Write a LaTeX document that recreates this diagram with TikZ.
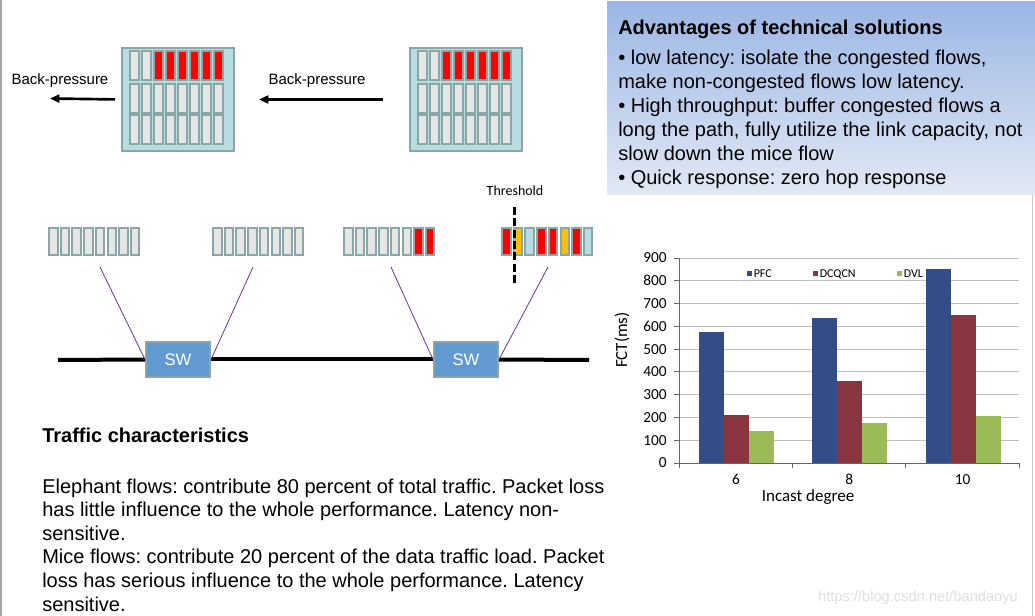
\documentclass[tikz,border=0pt]{standalone}
\usepackage{fontspec}
\setmainfont{Liberation Sans}
\newfontfamily\chartfont{Carlito}
\usepackage{tikz}
\usetikzlibrary{arrows.meta}
\frenchspacing
\definecolor{slotedge}{RGB}{138,166,166}
\definecolor{slotgray}{RGB}{230,230,230}
\definecolor{swcyan}{RGB}{183,221,224}
\definecolor{swblue}{RGB}{97,153,210}
\definecolor{linkpurple}{RGB}{112,48,160}
\definecolor{pktred}{RGB}{255,0,0}
\definecolor{pktyellow}{RGB}{255,192,0}
\definecolor{pfcblue}{RGB}{52,77,135}
\definecolor{dcqred}{RGB}{137,54,64}
\definecolor{dvlgreen}{RGB}{155,187,89}
\definecolor{boxtop}{RGB}{155,182,228}
\definecolor{boxbot}{RGB}{226,233,245}

\begin{document}
\begin{tikzpicture}[x=0.75pt,y=-0.75pt,
		slot/.style={draw=slotedge,line width=1.5,fill=slotgray},
		swbig/.style={draw=slotedge,line width=1.5,fill=swcyan,minimum width=84pt,minimum height=77.25pt,inner sep=0},
		swsmall/.style={draw=slotedge,line width=1.5,fill=swblue,minimum width=48pt,minimum height=26.25pt,inner sep=0,text=white,font=\fontsize{12.5}{14}\selectfont},
		bp/.style={line width=2,-{Triangle[length=7pt,width=6pt]}},
		bplabel/.style={font=\fontsize{11.25}{13}\selectfont,inner sep=0},
		link/.style={line width=3},
		feed/.style={linkpurple,line width=0.6},
		body/.style={font=\fontsize{15}{18}\selectfont,align=left,inner sep=0,anchor=base west},
		grid/.style={gray!50,line width=0.6},
		axisline/.style={gray!80!black,line width=0.6},
		ticklab/.style={font=\chartfont\fontsize{11.5}{13}\selectfont,inner sep=0}]
			\useasboundingbox (0,0) rectangle (1035,616);
			\draw[gray!70,line width=1.5] (1,0) -- (1,616);
			\draw[gray!40,line width=0.75] (1032,195) -- (1032,616);
			\node[swbig] (lsw) at (178,99.5) {};
			\node[swbig] (rsw) at (466,99.5) {};
			\foreach \s in {lsw,rsw}{
				\begin{scope}[shift={(\s.north west)}]
					\foreach \c [count=\k from 0] in {slotgray,slotgray,pktred,pktred,pktred,pktred,pktred,pktred}
						\draw[slot,fill=\c] ({9+\k*12},4) rectangle +(8.8,29);
					\foreach \r in {37,68}{
						\foreach \k in {0,...,7}
							\draw[slot] ({9+\k*12},\r) rectangle +(8.8,29);
					}
				\end{scope}
			}
			\coordinate (bpend) at (50,98.5);
			\draw[bp,shorten <=4.5pt] (lsw.west) -- (bpend);
			\draw[bp,shorten <=19.5pt,shorten >=18pt] (rsw.west) -- (lsw.east);
			\node[bplabel] (bp1) at (60,81) {Back-pressure};
			\node[bplabel] (bp2) at (317,81) {Back-pressure};
			\foreach \s in {49,213}{
				\foreach \k in {0,...,7}
					\draw[slot] ({\s+\k*11.7},228) rectangle +(8.5,27);
			}
			\foreach \c [count=\k from 0] in {slotgray,slotgray,slotgray,slotgray,slotgray,slotgray,pktred,pktred}
				\draw[slot,fill=\c] ({344+\k*11.7},228) rectangle +(8.5,27);
			\foreach \c [count=\k from 0] in {pktred,pktyellow,swcyan,pktred,pktred,pktyellow,pktred,swcyan}
				\draw[slot,fill=\c] ({502+\k*11.7},228) rectangle +(8.5,27);
			\node[font=\chartfont\fontsize{10.5}{12}\selectfont] (thr) at (515,191) {Threshold};
			\coordinate (thtop) at (514,207);
			\coordinate (thbot) at (514,285);
			\draw[line width=2.25,dash pattern=on 6pt off 2.5pt] (thtop) -- (thbot);
			\node[swsmall] (sw1) at (178,359.5) {SW};
			\node[swsmall] (sw2) at (466,359.5) {SW};
			\coordinate (lend) at (58,360);
			\coordinate (rend) at (589,360);
			\draw[link] (lend) -- (sw1.west);
			\draw[link] (sw1.east) -- (sw2.west);
			\draw[link] (sw2.east) -- (rend);
			\coordinate (f1) at (100,267);
			\coordinate (f2) at (253,267);
			\coordinate (f3) at (391,267);
			\coordinate (f4) at (548,267);
			\draw[feed] (f1) -- (sw1.west);
			\draw[feed] (f2) -- (sw1.east);
			\draw[feed] (f3) -- (sw2.west);
			\draw[feed] (f4) -- (sw2.east);
			\node[body,font=\bfseries\fontsize{15}{18}\selectfont] (traffic) at (42,442) {Traffic characteristics};
			\node[body,font=\fontsize{15}{17.7}\selectfont] (flows) at (42,611) {Elephant flows: contribute 80 percent of total traffic. Packet loss\\has little influence to the whole performance. Latency non-\\sensitive.\\Mice flows: contribute 20 percent of the data traffic load. Packet\\loss has serious influence to the whole performance. Latency\\sensitive.};
			\shade[top color=boxtop,bottom color=boxbot] (607,2) rectangle (1035,195);
			\node[body,font=\bfseries\fontsize{15}{18}\selectfont] (advtitle) at (618,35) {Advantages of technical solutions};
			\node[body] (adv) at (618,185) {• low latency: isolate the congested flows,\\make non-congested flows low latency.\\• High throughput: buffer congested flows a\\long the path, fully utilize the link capacity, not\\slow down the mice flow\\• Quick response: zero hop response};
			\foreach \v in {100,200,...,900}
				\draw[grid] (679,{463-\v*0.2278}) -- (1019,{463-\v*0.2278});
			\foreach \a/\b/\c [count=\i from 0] in {573/210/140,635/360/175,852/648/205}{
				\fill[pfcblue] ({699+\i*113.33},463) rectangle ++(25,{-\a*0.2278});
				\fill[dcqred] ({724+\i*113.33},463) rectangle ++(25,{-\b*0.2278});
				\fill[dvlgreen] ({749+\i*113.33},463) rectangle ++(25,{-\c*0.2278});
			}
			\draw[axisline] (679,463) -- (679,258);
			\draw[axisline] (679,463) -- (1019,463);
			\foreach \v in {0,100,...,900}{
				\draw[axisline] (674,{463-\v*0.2278}) -- (679,{463-\v*0.2278});
				\node[ticklab,anchor=east] (y\v) at (667,{463-\v*0.2278}) {\v};
			}
			\foreach \i in {0,...,3}
				\draw[axisline] ({679+\i*113.33},463) -- ++(0,5);
			\foreach \t [count=\i from 0] in {6,8,10}
				\node[ticklab,anchor=base] (x\t) at ({736+\i*113.33},484) {\t};
			\node[ticklab,font=\chartfont\fontsize{12.75}{14}\selectfont,anchor=base] (xtitle) at (808,501) {Incast degree};
			\node[ticklab,font=\chartfont\fontsize{12.75}{14}\selectfont,rotate=90] (ytitle) at (622,340) {FCT(ms)};
			\foreach \c/\t/\x in {pfcblue/PFC/749,dcqred/DCQCN/815,dvlgreen/DVL/899}{
				\fill[\c] ({\x-2.5},271.5) rectangle ++(5,5);
				\node[ticklab,font=\chartfont\fontsize{9}{10}\selectfont,anchor=west] (l\t) at ({\x+4.5},274) {\t};
			}
			\node[font=\fontsize{11}{13}\selectfont,text=gray!25,inner sep=0] (wm) at (918,598) {https://blog.csdn.net/bandaoyu};
		\end{tikzpicture}
\end{document}
